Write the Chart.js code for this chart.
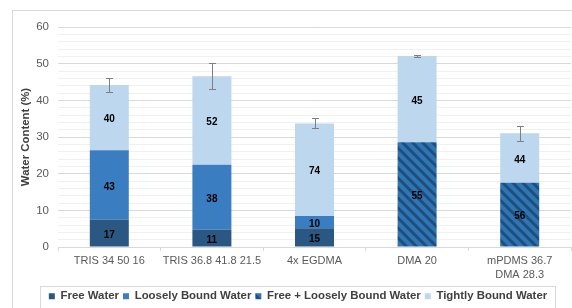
<!DOCTYPE html>
<html>
<head>
<meta charset="utf-8">
<script src="https://cdn.jsdelivr.net/npm/chart.js@4/dist/chart.umd.min.js"></script>
<style>
html,body{margin:0;padding:0;background:#fff;}
#wrap{width:572px;height:308px;position:relative;}
</style>
</head>
<body>
<div id="wrap"><canvas id="c"></canvas></div>
<script>
// ---- data ----
const categories = ['TRIS 34 50 16', 'TRIS 36.8 41.8 21.5', '4x EGDMA', 'DMA 20', ['mPDMS 36.7', 'DMA 28.3']];
const freeWater     = [7.5, 4.8, 5.1, null, null];
const looselyBound  = [18.9, 17.6, 3.35, null, null];
const freeLoosely   = [null, null, null, 28.6, 17.5];
const tightlyBound  = [17.8, 24.2, 25.25, 23.5, 13.5];
const freePct       = [17, 11, 15, null, null];
const loosePct      = [43, 38, 10, null, null];
const freeLoosePct  = [null, null, null, 55, 56];
const tightPct      = [40, 52, 74, 45, 44];
const errorBars     = [1.95, 3.5, 1.36, 0.35, 2.1];
const yTicks        = [0, 10, 20, 30, 40, 50, 60];

// ---- hatch pattern ----
function makeHatch() {
  const c = document.createElement('canvas');
  c.width = 10; c.height = 10;
  const x = c.getContext('2d');
  x.fillStyle = '#2e75b6';
  x.fillRect(0, 0, 10, 10);
  x.strokeStyle = '#1f4e79';
  x.lineWidth = 3;
  x.beginPath();
  x.moveTo(-5, -5); x.lineTo(15, 15);
  x.moveTo(-5, 5); x.lineTo(5, 15);
  x.moveTo(5, -5); x.lineTo(15, 5);
  x.stroke();
  return x.createPattern(c, 'repeat');
}
const hatch = makeHatch();

const FONT = "'Liberation Sans', Arial, sans-serif";

const labelSets = [freePct, loosePct, freeLoosePct, tightPct];

const decorPlugin = {
  id: 'decor',
  beforeDraw(chart) {
    const ctx = chart.ctx;
    ctx.save();
    ctx.fillStyle = '#fff';
    ctx.fillRect(0, 0, chart.width, chart.height);
    ctx.restore();
  },
  afterLayout(chart) {
    const lg = chart.legend;
    if (lg) {
      const h = lg.bottom - lg.top;
      lg.left = 40; lg.right = 556; lg.width = 516;
      lg.top = 286.5; lg.bottom = lg.top + h;
    }
  },
  afterDatasetsDraw(chart) {
    const ctx = chart.ctx;
    const y = chart.scales.y;
    // data labels
    ctx.save();
    ctx.font = "bold 10px " + FONT;
    ctx.fillStyle = '#000';
    ctx.textAlign = 'center';
    ctx.textBaseline = 'middle';
    chart.data.datasets.forEach((ds, di) => {
      const meta = chart.getDatasetMeta(di);
      meta.data.forEach((el, i) => {
        const v = labelSets[di][i];
        if (v == null || ds.data[i] == null) return;
        ctx.fillText(String(v), el.x, (el.y + el.base) / 2 + 2);
      });
    });
    ctx.restore();
    // error bars
    ctx.save();
    ctx.strokeStyle = '#7f7f7f';
    ctx.lineWidth = 1;
    const metaTop = chart.getDatasetMeta(3);
    categories.forEach((c, i) => {
      const total = [freeWater, looselyBound, freeLoosely, tightlyBound]
        .reduce((s, a) => s + (a[i] || 0), 0);
      const x = Math.round(metaTop.data[i].x) + 0.5;
      const yt = Math.round(y.getPixelForValue(total + errorBars[i])) + 0.5;
      const yb = Math.round(y.getPixelForValue(total - errorBars[i])) + 0.5;
      ctx.beginPath();
      ctx.moveTo(x, yt); ctx.lineTo(x, yb);
      ctx.moveTo(x - 3.5, yt); ctx.lineTo(x + 3.5, yt);
      ctx.moveTo(x - 3.5, yb); ctx.lineTo(x + 3.5, yb);
      ctx.stroke();
    });
    ctx.restore();
  },
  afterDraw(chart) {
    const ctx = chart.ctx;
    ctx.save();
    ctx.strokeStyle = '#d9d9d9';
    ctx.lineWidth = 1;
    ctx.strokeRect(12.5, 10.5, 570, 320);
    ctx.strokeRect(40.5, 286.5, 515, 40);
    ctx.restore();
  }
};

new Chart(document.getElementById('c'), {
  type: 'bar',
  data: {
    labels: categories,
    datasets: [
      { label: 'Free Water', data: freeWater, backgroundColor: '#2b5883' },
      { label: 'Loosely Bound Water', data: looselyBound, backgroundColor: '#3a7dc0' },
      { label: 'Free + Loosely Bound Water', data: freeLoosely, backgroundColor: hatch },
      { label: 'Tightly Bound Water', data: tightlyBound, backgroundColor: '#bdd7ee' }
    ]
  },
  options: {
    responsive: true,
    maintainAspectRatio: false,
    animation: false,
    devicePixelRatio: 1,
    layout: { padding: { left: 14, right: 1, top: 27, bottom: 0 } },
    datasets: { bar: { barPercentage: 0.38, categoryPercentage: 1, borderWidth: 0 } },
    plugins: {
      legend: {
        position: 'bottom',
        labels: {
          boxWidth: 6, boxHeight: 6, padding: 4,
          color: '#404040',
          font: { family: FONT, size: 11.4, weight: 'bold' }
        }
      },
      tooltip: { enabled: false },
      title: { display: false }
    },
    scales: {
      x: {
        stacked: true,
        grid: { drawOnChartArea: false, drawTicks: true, tickLength: 4, color: '#d9d9d9', offset: true },
        border: { color: '#d9d9d9' },
        ticks: {
          color: '#595959', padding: 3, maxRotation: 0, minRotation: 0, autoSkip: false,
          font: { family: FONT, size: 11, lineHeight: 1.3 }
        },
        afterFit(s) { s.height = 35.6; }
      },
      y: {
        stacked: true,
        min: 0, max: 60,
        border: { display: false },
        grid: {
          drawTicks: false,
          color: (c) => (c.tick && yTicks.includes(c.tick.value)) ? '#d9d9d9' : '#f0f0f0'
        },
        ticks: {
          stepSize: 2,
          autoSkip: false,
          padding: 9,
          color: '#595959',
          font: { family: FONT, size: 11.5 },
          callback: (v) => yTicks.includes(v) ? String(v) : ''
        },
        title: {
          display: true,
          text: 'Water Content (%)',
          color: '#404040',
          padding: { top: 5, bottom: 0 },
          font: { family: FONT, size: 11.4, weight: 'bold' }
        },
        afterFit(s) { s.width = 44; }
      }
    }
  },
  plugins: [decorPlugin]
});
</script>
</body>
</html>
